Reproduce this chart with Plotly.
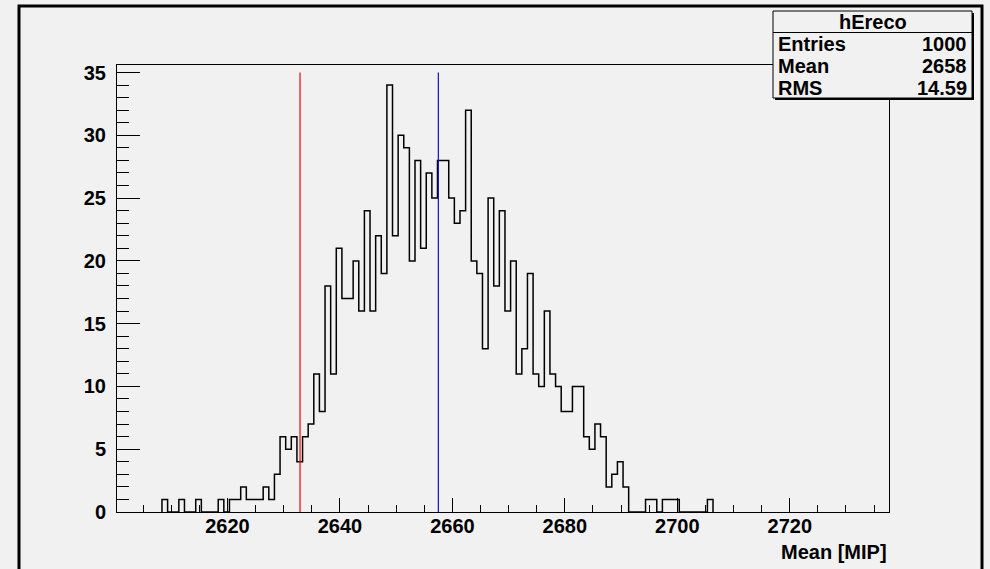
import plotly.graph_objects as go

# Histogram hEreco: 1-unit bins, lower edge of the first filled bin
first_bin_low = 2608.35
bin_width = 1.0
counts = [
    1, 0, 0, 1, 0, 0, 1, 0, 0, 0,      # 2608-2617
    1, 0, 1, 1, 2, 1, 1, 1, 2, 1,      # 2618-2627
    3, 6, 5, 6, 4, 6, 7, 11, 8, 18,    # 2628-2637
    11, 21, 17, 17, 20, 16, 24, 16, 22, 19,  # 2638-2647
    34, 22, 30, 29, 20, 28, 21, 27, 25, 28,  # 2648-2657
    28, 25, 23, 24, 32, 20, 19, 13, 25, 18,  # 2658-2667
    24, 16, 20, 11, 13, 19, 11, 10, 16, 11,  # 2668-2677
    10, 8, 8, 10, 10, 6, 5, 7, 6, 2,         # 2678-2687
    3, 4, 2, 0, 0, 0, 1, 1, 0, 1,            # 2688-2697
    1, 1, 0, 0, 0, 0, 0, 1,                  # 2698-2705
]

x_range = [2600.35, 2737.65]
y_range = [0, 35.6]
red_line_x = 2632.9
blue_line_x = 2657.5
marker_line_top = 35

x_ticks = [2620, 2640, 2660, 2680, 2700, 2720]
y_ticks = [0, 5, 10, 15, 20, 25, 30, 35]
x_title = "Mean [MIP]"

stats_title = "hEreco"
stats_labels = ["Entries", "Mean", "RMS"]
stats_values = ["1000", "2658", "14.59"]

BG = "#f1f1f1"
FONT = "Liberation Sans"

W, H = 990, 569
L, R, T, B = 117, 101, 65, 57
PW, PH = W - L - R, H - T - B


def px(x):
    return (x - L) / PW


def py(y):
    return (H - B - y) / PH


# step outline of the histogram
edges = [first_bin_low + i * bin_width for i in range(len(counts) + 1)]
xs = [edges[0]] + edges
ys = [0] + counts + [0]

fig = go.Figure()
fig.add_trace(go.Scatter(
    x=xs, y=ys, mode="lines", line=dict(shape="hv", color="black", width=1.5),
    hoverinfo="skip", showlegend=False,
))
fig.add_trace(go.Scatter(
    x=[red_line_x, red_line_x], y=[0, marker_line_top], mode="lines",
    line=dict(color="#ff0000", width=1.2), hoverinfo="skip", showlegend=False,
))
fig.add_trace(go.Scatter(
    x=[blue_line_x, blue_line_x], y=[0, marker_line_top], mode="lines",
    line=dict(color="#1010c0", width=1.2), hoverinfo="skip", showlegend=False,
))

tick_font = dict(family=FONT, size=20, color="black", weight="bold")

fig.update_xaxes(
    range=x_range, tickmode="array", tickvals=x_ticks,
    ticktext=[str(v) for v in x_ticks],
    ticks="inside", ticklen=14, tickwidth=1, tickcolor="black",
    minor=dict(dtick=5, tick0=2600, ticks="inside", ticklen=7, tickcolor="black"),
    showline=True, linecolor="black", linewidth=1, mirror=True,
    showgrid=False, zeroline=False, tickfont=tick_font, ticklabelstandoff=-4,
)
fig.update_yaxes(
    range=y_range, tickmode="array", tickvals=y_ticks,
    ticktext=[str(v) for v in y_ticks],
    ticks="inside", ticklen=23, tickwidth=1, tickcolor="black",
    minor=dict(dtick=1, tick0=0, ticks="inside", ticklen=12, tickcolor="black"),
    showline=True, linecolor="black", linewidth=1, mirror=True,
    showgrid=False, zeroline=False, tickfont=tick_font, ticklabelstandoff=6,
)

shapes = []
# canvas border
shapes.append(dict(type="rect", xref="paper", yref="paper",
                   x0=px(19), x1=px(982), y0=py(6), y1=py(620),
                   line=dict(color="black", width=3), fillcolor="rgba(0,0,0,0)",
                   layer="above"))
# stats box with shadow
bx0, bx1, by0, by1 = 773, 972, 11, 98
shapes.append(dict(type="rect", xref="paper", yref="paper",
                   x0=px(bx0 + 2), x1=px(bx1 + 2), y0=py(by0 + 2), y1=py(by1 + 2),
                   line=dict(width=0), fillcolor="black", layer="above"))
shapes.append(dict(type="rect", xref="paper", yref="paper",
                   x0=px(bx0), x1=px(bx1), y0=py(by0), y1=py(by1),
                   line=dict(color="black", width=1), fillcolor=BG, layer="above"))
shapes.append(dict(type="line", xref="paper", yref="paper",
                   x0=px(bx0), x1=px(bx1), y0=py(32.5), y1=py(32.5),
                   line=dict(color="black", width=1), layer="above"))

stat_font = dict(family=FONT, size=20, color="black", weight="bold")
annotations = [
    dict(text=stats_title, xref="paper", yref="paper", x=px((bx0 + bx1) / 2),
         y=py(22), xanchor="center", yanchor="middle", showarrow=False, font=stat_font),
]
row_y = [44, 66, 88]
for lab, val, yy in zip(stats_labels, stats_values, row_y):
    annotations.append(dict(text=lab, xref="paper", yref="paper", x=px(bx0 + 3),
                            y=py(yy), xanchor="left", yanchor="middle",
                            showarrow=False, font=stat_font))
    annotations.append(dict(text=val, xref="paper", yref="paper", x=px(bx1 - 3),
                            y=py(yy), xanchor="right", yanchor="middle",
                            showarrow=False, font=stat_font))
annotations.append(dict(text=x_title, xref="paper", yref="paper", x=1.0, y=py(552),
                        xanchor="right", yanchor="middle", showarrow=False,
                        font=dict(family=FONT, size=20, color="black", weight="bold")))

fig.update_layout(
    width=W, height=H, margin=dict(l=L, r=R, t=T, b=B, autoexpand=False),
    paper_bgcolor=BG, plot_bgcolor=BG,
    shapes=shapes, annotations=annotations, showlegend=False,
)

fig.write_html("out.html")
